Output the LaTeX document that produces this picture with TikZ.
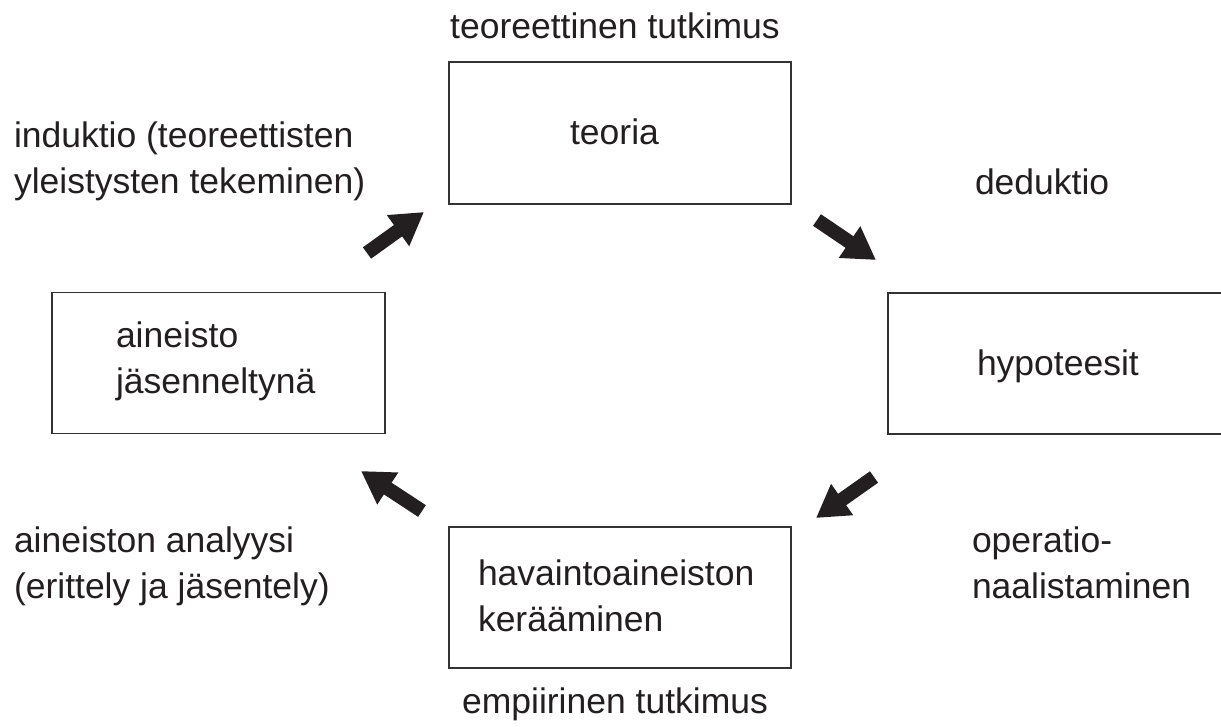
\documentclass[tikz,border=0pt]{standalone}
\usepackage{fontspec}
\setmainfont{Liberation Sans}
\usetikzlibrary{arrows.meta}
\definecolor{ink}{HTML}{231F20}
\definecolor{frame}{HTML}{333333}
\tikzset{
  lbl/.style={inner sep=0pt, outer sep=0pt, text=ink, font=\fontsize{35.5pt}{46pt}\selectfont, align=left},
  boxnode/.style={draw=frame, line width=1.3pt, inner sep=0pt, fill=none},
  bigarrow/.style={draw=ink, line width=14pt, -{Triangle[width=36pt,length=32pt]}}
}
\begin{document}
\begin{tikzpicture}[x=1pt,y=-1pt]
\useasboundingbox (0,0) rectangle (1221,726);
% boxes
\node[boxnode, minimum width=342pt, minimum height=142pt] (teoria) at (620,133) {};
\node[boxnode, minimum width=333pt, minimum height=141pt] (aine) at (218.5,363) {};
\node[boxnode, minimum width=360pt, minimum height=141pt] (hyp) at (1068,363.5) {};
\node[boxnode, minimum width=342pt, minimum height=141pt] (hav) at (620,597.5) {};
% box texts (base anchor = baseline of last line)
\node[lbl, anchor=base] (teoriat) at (614.5,144) {teoria};
\node[lbl, anchor=base west] (ainet) at (116,393) {aineisto\\jäsenneltynä};
\node[lbl, anchor=base west] (hypt) at (977,375) {hypoteesit};
\node[lbl, anchor=base west] (havt) at (478,631) {havaintoaineiston\\kerääminen};
% outer labels
\node[lbl, anchor=base] (teortut) at (615,38) {teoreettinen tutkimus};
\node[lbl, anchor=base] (empt) at (615,713) {empiirinen tutkimus};
\node[lbl, anchor=base west] (ind) at (14,193) {induktio (teoreettisten\\yleistysten tekeminen)};
\node[lbl, anchor=base west] (ded) at (975,194) {deduktio};
\node[lbl, anchor=base west] (ana) at (14,598) {aineiston analyysi\\(erittely ja jäsentely)};
\node[lbl, anchor=base west] (oper) at (972,598) {operatio-\\naalistaminen};
% arrows
\coordinate (a1s) at (367,253);
\coordinate (a1e) at (424,212);
\coordinate (a2s) at (817,220);
\coordinate (a2e) at (876,260);
\coordinate (a3s) at (874,477);
\coordinate (a3e) at (816,518);
\coordinate (a4s) at (422,511);
\coordinate (a4e) at (361,471);
\draw[bigarrow] (a1s) -- (a1e);
\draw[bigarrow] (a2s) -- (a2e);
\draw[bigarrow] (a3s) -- (a3e);
\draw[bigarrow] (a4s) -- (a4e);
\end{tikzpicture}
\end{document}
